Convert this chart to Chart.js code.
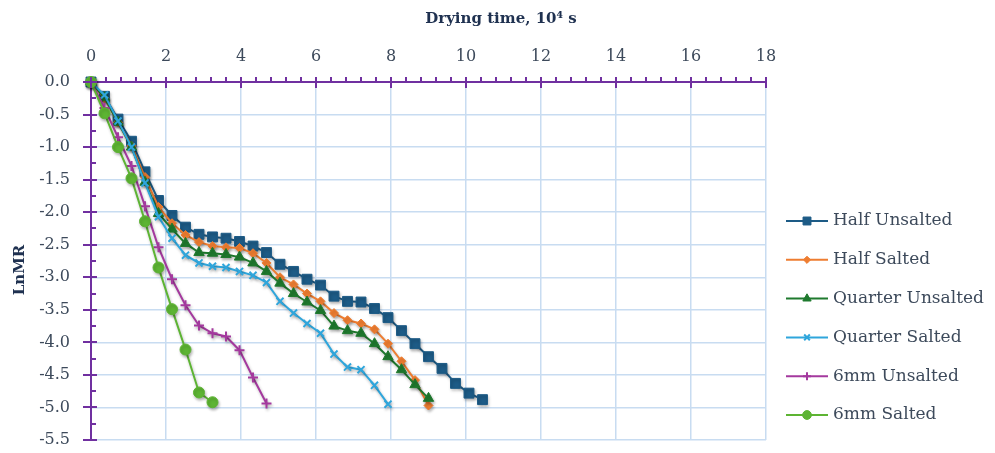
<!DOCTYPE html>
<html>
<head>
<meta charset="utf-8">
<script src="https://cdn.jsdelivr.net/npm/chart.js@4.4.0/dist/chart.umd.min.js"></script>
<style>
  html, body { margin: 0; padding: 0; background: #fff; }
  #wrap { width: 995px; height: 453px; }
</style>
</head>
<body>
<div id="wrap"><canvas id="c"></canvas></div>
<script>
// drying time, 10^4 s (one reading per hour)
const dryingTime = [0, 0.36, 0.72, 1.08, 1.44, 1.8, 2.16, 2.52, 2.88, 3.24, 3.6, 3.96, 4.32, 4.68, 5.04,
  5.4, 5.76, 6.12, 6.48, 6.84, 7.2, 7.56, 7.92, 8.28, 8.64, 9.0, 9.36, 9.72, 10.08, 10.44];

const seriesNames = ['Half Unsalted', 'Half Salted', 'Quarter Unsalted', 'Quarter Salted', '6mm Unsalted', '6mm Salted'];

const halfUnsalted = [0, -0.22, -0.57, -0.91, -1.38, -1.82, -2.05, -2.23, -2.34, -2.38, -2.40, -2.45, -2.52, -2.62, -2.80,
  -2.91, -3.03, -3.12, -3.29, -3.37, -3.38, -3.48, -3.62, -3.82, -4.02, -4.22, -4.40, -4.63, -4.78, -4.88];
const halfSalted = [0, -0.25, -0.62, -0.98, -1.46, -1.92, -2.17, -2.35, -2.46, -2.52, -2.54, -2.55, -2.63, -2.78, -3.00,
  -3.11, -3.25, -3.37, -3.55, -3.66, -3.71, -3.80, -4.02, -4.29, -4.58, -4.97];
const quarterUnsalted = [0, -0.24, -0.62, -1.00, -1.54, -2.02, -2.26, -2.48, -2.62, -2.63, -2.65, -2.69, -2.78, -2.91, -3.09,
  -3.25, -3.38, -3.51, -3.75, -3.82, -3.86, -4.02, -4.22, -4.42, -4.65, -4.86];
const quarterSalted = [0, -0.20, -0.60, -1.00, -1.55, -2.07, -2.40, -2.66, -2.78, -2.83, -2.85, -2.91, -2.97, -3.08, -3.37,
  -3.55, -3.71, -3.86, -4.18, -4.38, -4.42, -4.66, -4.95];
const sixmmUnsalted = [0, -0.40, -0.85, -1.29, -1.91, -2.54, -3.03, -3.43, -3.74, -3.86, -3.91, -4.12, -4.54, -4.94];
const sixmmSalted = [0, -0.48, -1.00, -1.48, -2.14, -2.85, -3.49, -4.11, -4.77, -4.92];

const xTickValues = [0, 2, 4, 6, 8, 10, 12, 14, 16, 18];
const yTickValues = [0, -0.5, -1, -1.5, -2, -2.5, -3, -3.5, -4, -4.5, -5, -5.5];

const colors = ['#1d5b86', '#ee7d31', '#1f7a2e', '#2fa6dc', '#a4399e', '#5db433'];
const markers = [
  { pointStyle: 'rect', radius: 7, borderWidth: 1 },
  { pointStyle: 'rectRot', radius: 4.5, borderWidth: 1 },
  { pointStyle: 'triangle', radius: 6, borderWidth: 1 },
  { pointStyle: 'crossRot', radius: 5, borderWidth: 2 },
  { pointStyle: 'cross', radius: 5, borderWidth: 2 },
  { pointStyle: 'circle', radius: 5.5, borderWidth: 1 }
];
const seriesValues = [halfUnsalted, halfSalted, quarterUnsalted, quarterSalted, sixmmUnsalted, sixmmSalted];

const axisColor = '#7030a0';
const gridColor = '#c8dcf1';
const textColor = '#3d4a5b';
const titleColor = '#1f3150';
const serif = '"DejaVu Serif", serif';

const datasets = seriesValues.map((vals, i) => ({
  label: seriesNames[i],
  data: vals.map((v, j) => ({ x: dryingTime[j], y: v })),
  borderColor: colors[i],
  backgroundColor: colors[i],
  borderWidth: 2,
  pointStyle: markers[i].pointStyle,
  pointRadius: markers[i].radius,
  pointBorderWidth: markers[i].borderWidth,
  pointBackgroundColor: colors[i],
  pointBorderColor: colors[i],
  tension: 0,
  clip: 10,
  order: seriesNames.length - i
}));

// marker shadows, axis ticks, titles and legend
const decor = {
  id: 'decor',
  beforeDatasetsDraw(chart) {
    const ctx = chart.ctx;
    ctx.save();
    ctx.shadowColor = 'rgba(0,0,0,0.28)';
    ctx.shadowBlur = 3;
    ctx.shadowOffsetX = 1;
    ctx.shadowOffsetY = 2;
  },
  afterDatasetsDraw(chart) {
    chart.ctx.restore();
  },
  afterDraw(chart) {
    const ctx = chart.ctx;
    const xs = chart.scales.x, ys = chart.scales.y;
    const area = chart.chartArea;
    ctx.save();
    ctx.strokeStyle = axisColor;
    ctx.lineWidth = 2;
    ctx.beginPath();
    for (let v = 0; v <= 18.001; v += 0.4) {
      const px = Math.round(xs.getPixelForValue(v));
      const major = Math.abs(v / 2 - Math.round(v / 2)) < 0.01;
      if (major) { ctx.moveTo(px, area.top - 5); ctx.lineTo(px, area.top + 6); }
      else { ctx.moveTo(px, area.top - 5); ctx.lineTo(px, area.top); }
    }
    for (let v = 0; v >= -5.501; v -= 0.25) {
      const py = Math.round(ys.getPixelForValue(v));
      const major = Math.abs(v / 0.5 - Math.round(v / 0.5)) < 0.01;
      if (major) { ctx.moveTo(area.left - 8, py); ctx.lineTo(area.left + 6, py); }
      else { ctx.moveTo(area.left, py); ctx.lineTo(area.left + 5, py); }
    }
    ctx.stroke();

    ctx.fillStyle = titleColor;
    ctx.font = 'bold 15px ' + serif;
    ctx.textAlign = 'center';
    ctx.textBaseline = 'middle';
    ctx.fillText('Drying time, 10\u2074 s', 501, 19);
    ctx.save();
    ctx.translate(20, 270);
    ctx.rotate(-Math.PI / 2);
    ctx.fillText('LnMR', 0, 0);
    ctx.restore();

    ctx.font = '17px ' + serif;
    ctx.textAlign = 'left';
    seriesNames.forEach((name, i) => {
      const y = 221 + i * 38.8;
      ctx.strokeStyle = colors[i];
      ctx.fillStyle = colors[i];
      ctx.lineWidth = 2;
      ctx.beginPath();
      ctx.moveTo(786, y);
      ctx.lineTo(828, y);
      ctx.stroke();
      ctx.lineWidth = markers[i].borderWidth;
      Chart.helpers.drawPoint(ctx, {
        pointStyle: markers[i].pointStyle,
        radius: markers[i].radius * 0.8,
        rotation: 0,
        borderWidth: markers[i].borderWidth
      }, 807, y);
      ctx.fillStyle = textColor;
      ctx.fillText(name, 833, y);
    });
    ctx.restore();
  }
};

new Chart(document.getElementById('c'), {
  type: 'line',
  data: { datasets },
  options: {
    responsive: true,
    maintainAspectRatio: false,
    animation: false,
    layout: { padding: { left: 0, top: 0, right: 229, bottom: 13 } },
    plugins: {
      legend: { display: false },
      tooltip: { enabled: false }
    },
    scales: {
      x: {
        type: 'linear',
        position: 'top',
        min: xTickValues[0],
        max: xTickValues[xTickValues.length - 1],
        ticks: { stepSize: 2, padding: 16, color: textColor, font: { family: serif, size: 16 } },
        grid: { color: gridColor, lineWidth: 1.5, drawTicks: false },
        border: { color: axisColor, width: 2 },
        afterFit: s => { s.height = 82; s.paddingLeft = 0; s.paddingRight = 0; }
      },
      y: {
        type: 'linear',
        min: yTickValues[yTickValues.length - 1],
        max: yTickValues[0],
        ticks: { stepSize: 0.5, padding: 21, color: textColor, font: { family: serif, size: 16 },
          callback: v => (Math.abs(v) < 1e-9 ? 0 : v).toFixed(1) },
        grid: { color: gridColor, lineWidth: 1.5, drawTicks: false },
        border: { color: axisColor, width: 2 },
        afterFit: s => { s.width = 91; s.paddingTop = 0; s.paddingBottom = 0; }
      }
    }
  },
  plugins: [decor]
});
</script>
</body>
</html>
